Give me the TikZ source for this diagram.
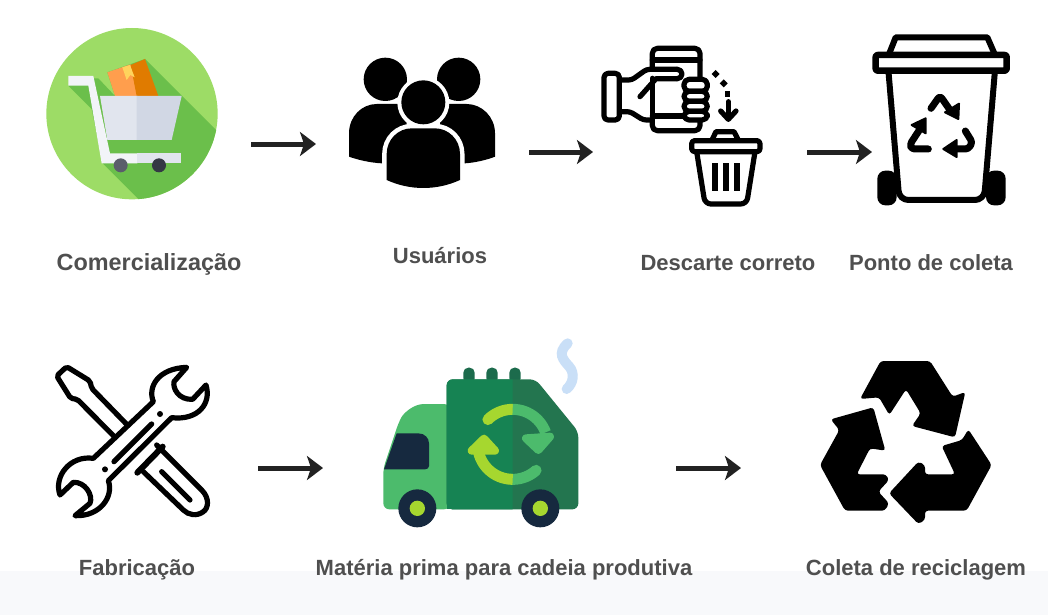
\documentclass[tikz,border=0pt]{standalone}
\usepackage{fontspec}
\setmainfont{Liberation Sans}
\usetikzlibrary{arrows.meta}
\definecolor{labelgray}{HTML}{4F4F4F}
\definecolor{arrowink}{HTML}{222222}
\definecolor{bandc}{HTML}{F8F9FB}
\definecolor{lgreen}{HTML}{9DDC66}
\definecolor{dgreen}{HTML}{6BBF4B}
\definecolor{boxlight}{HTML}{FF9E4D}
\definecolor{boxdark}{HTML}{E07B00}
\definecolor{tapec}{HTML}{FFD35C}
\definecolor{basketl}{HTML}{E1E5EE}
\definecolor{basketr}{HTML}{D1D7E4}
\definecolor{framec}{HTML}{F2F4F8}
\definecolor{wheela}{HTML}{5A5D6B}
\definecolor{wheelb}{HTML}{343844}
\definecolor{cabc}{HTML}{4CBB6C}
\definecolor{bodyc}{HTML}{168353}
\definecolor{rearc}{HTML}{23754F}
\definecolor{navyc}{HTML}{16293F}
\definecolor{limec}{HTML}{A6D72F}
\definecolor{smokec}{HTML}{C9DFF7}
\definecolor{stubc}{HTML}{1C6B4C}
\tikzset{
  lbl/.style={font=\fontsize{22}{26}\selectfont\bfseries,text=labelgray,inner sep=0pt},
  flow/.style={draw=arrowink,line width=5pt,-{Stealth[length=16pt,width=24pt,inset=4pt]}},
  ink/.style={draw=black,line join=round,line cap=round},
}
\begin{document}
\begin{tikzpicture}[x=1pt,y=-1pt]
\useasboundingbox (0,0) rectangle (1048,615);
\fill[white] (0,0) rectangle (1048,615);
\fill[bandc] (0,571) rectangle (1048,615);

% shopping cart
\begin{scope}[shift={(30,15)},scale=1/3]
  \fill[lgreen] (306,296) circle[radius=257];
  \begin{scope}
    \clip (306,296) circle[radius=257];
    \fill[dgreen] (115,212) -- (185,282) -- (218,445) -- (373,600) -- (600,600) -- (600,387) -- (345,132) -- (232,172) -- (255,243) -- (205,190) -- (175,190) -- cycle;
  \end{scope}
  \fill[boxlight] (232,172) -- (302,148) -- (322,243) -- (255,243) -- cycle;
  \fill[boxdark] (302,150) -- (345,132) -- (385,243) -- (320,243) -- cycle;
  \fill[tapec] (277,157) -- (300,150) -- (314,187) -- (301,180) -- (290,195) -- cycle;
  \fill[basketl] (210,243) -- (323,243) -- (323,375) -- (232,375) -- cycle;
  \fill[basketr] (320,243) -- (455,243) -- (425,375) -- (320,375) -- cycle;
  \fill[framec] (115,183) -- (190,183) -- (240,415) -- (322,415) -- (322,445) -- (215,445) -- (175,212) -- (115,212) -- cycle;
  \fill[basketl] (320,415) -- (452,415) -- (452,445) -- (320,445) -- cycle;
  \fill[wheela] (272,451) circle[radius=21];
  \fill[wheelb] (387,451) circle[radius=21];
\end{scope}

% users
\begin{scope}[shift={(340,30)},scale=1/3]
  \fill[black] (136,148) circle[radius=65];
  \fill[black] (356,148) circle[radius=65];
  \fill[black] (27,380) -- (27,310) .. controls (27,260) and (65,222) .. (110,222) -- (200,222) -- (200,400) -- (125,400) .. controls (90,398) and (55,390) .. (27,380) -- cycle;
  \fill[black] (465,380) -- (465,310) .. controls (465,260) and (425,222) .. (380,222) -- (300,222) -- (300,400) -- (375,400) .. controls (405,398) and (440,390) .. (465,380) -- cycle;
  \fill[white] (250,218) circle[radius=78];
  \path[draw=white,line width=9pt,fill=white] (140,450) -- (140,372) .. controls (140,328) and (175,295) .. (215,295) -- (285,295) .. controls (325,295) and (360,328) .. (360,372) -- (360,450) .. controls (320,480) and (180,480) .. (140,450) -- cycle;
  \fill[black] (140,450) -- (140,372) .. controls (140,328) and (175,295) .. (215,295) -- (285,295) .. controls (325,295) and (360,328) .. (360,372) -- (360,450) .. controls (290,482) and (210,482) .. (140,450) -- cycle;
  \fill[black] (250,217) circle[radius=66];
\end{scope}

% hand, phone and small bin
\begin{scope}[shift={(590,30)},scale=1/3]
  \begin{scope}[ink,line width=5.2pt]
    \draw[rounded corners=5pt] (187,118) -- (187,55) -- (330,55) -- (330,145);
    \draw (187,90) -- (330,90);
    \draw[rounded corners=5pt] (187,268) -- (187,302) -- (330,302) -- (330,272);
    \draw (187,258) -- (280,258);
    \draw (187,145) -- (187,258);
    \draw[rounded corners=4pt] (42,130) rectangle (88,270);
    \draw[rounded corners=3pt] (90,150) -- (125,150) -- (170,118) -- (262,118);
    \draw (262,118) arc[start angle=-90,end angle=90,radius=14];
    \draw (262,146) -- (198,146) -- (150,200);
    \draw[rounded corners=3pt] (90,245) -- (120,245) -- (160,270) -- (187,270);
    \draw[rounded corners=5pt,fill=white] (282,148) rectangle (352,184);
    \draw[rounded corners=5pt,fill=white] (282,184) rectangle (352,214);
    \draw[rounded corners=5pt,fill=white] (282,214) rectangle (352,244);
    \draw[rounded corners=5pt,fill=white] (282,244) rectangle (352,270);
    \draw (415,215) -- (415,264);
    \draw (392,243) -- (415,268) -- (438,243);
    \draw (366,330) -- (378,305) -- (432,305) -- (445,330);
    \draw[rounded corners=3pt] (305,332) rectangle (510,365);
    \draw[rounded corners=6pt] (320,365) -- (345,522) -- (470,522) -- (495,365);
    \draw[line cap=butt] (375,400) -- (375,482);
    \draw[line cap=butt] (408,400) -- (408,482);
    \draw[line cap=butt] (441,400) -- (441,482);
  \end{scope}
  \fill[black] (377,120) -- (389,132) -- (377,144) -- (365,132) -- cycle;
  \fill[black] (401,148) -- (413,160) -- (401,172) -- (389,160) -- cycle;
  \fill[black] (404,184) rectangle (420,200);
\end{scope}

% wheelie bin
\begin{scope}[shift={(860,25)},scale=1/3]
  \fill[black,rounded corners=8pt] (52,541) -- (52,437) -- (110,437) -- (110,541) -- cycle;
  \fill[black,rounded corners=8pt] (378,541) -- (378,437) -- (437,437) -- (437,541) -- cycle;
  \draw[ink,line width=6pt,fill=white,rounded corners=9pt] (85,135) -- (118,525) -- (372,525) -- (405,135);
  \draw[ink,line width=6pt] (88,85) -- (107,37) -- (382,37) -- (403,85);
  \draw[ink,line width=6.5pt,rounded corners=2pt,fill=white] (47,90) rectangle (440,137);
  \begin{scope}[ink,line width=7pt,rounded corners=3pt]
    \draw (213,250) -- (240,212) -- (272,258);
    \draw (205,372) -- (155,372) -- (150,358) -- (180,312);
    \draw (316,318) -- (337,352) -- (325,372) -- (285,372);
  \end{scope}
  \fill[black,draw=black,line width=2pt,line join=round] (297,236) -- (295,282) -- (255,262) -- cycle;
  \fill[black,draw=black,line width=2pt,line join=round] (155,300) -- (197,280) -- (197,325) -- cycle;
  \fill[black,draw=black,line width=2pt,line join=round] (250,372) -- (290,345) -- (290,396) -- cycle;
\end{scope}

% tools
\begin{scope}[shift={(40,350)},scale=1/3]
  \begin{scope}[ink,line width=5.2pt]
    \draw[rounded corners=2pt,fill=white] (265,228) -- (155,115) -- (150,93) -- (80,50) -- (50,78) -- (92,145) -- (112,148) -- (225,262);
    \draw[fill=white] (350,285) -- (485,420) .. controls (510,445) and (505,475) .. (490,485) .. controls (470,500) and (445,495) .. (430,480) -- (310,365);
    \draw (365,365) -- (450,450);
    \draw[line width=6pt] (292,368) -- (368,290);
    \draw[fill=white] (340,155) .. controls (322,110) and (355,55) .. (440,52) -- (402,95) .. controls (398,115) and (415,150) .. (458,148) -- (498,105) .. controls (515,160) and (475,212) .. (395,203) -- (205,392) .. controls (222,440) and (180,500) .. (105,497) -- (150,460) .. controls (160,435) and (135,395) .. (100,397) -- (60,435) .. controls (40,380) and (90,315) .. (160,325) -- cycle;
    \draw (335,222) -- (222,335);
  \end{scope}
  \fill[black] (360,192) circle[radius=9];
  \fill[black] (195,358) circle[radius=9];
\end{scope}

% truck
\begin{scope}[shift={(370,330)},scale=1/3]
  \draw[smokec,line width=10pt,line cap=round] (593,40) .. controls (560,70) and (580,90) .. (598,110) .. controls (615,130) and (610,160) .. (590,177);
  \foreach \sx in {297,366,435}{
    \fill[stubc,rounded corners=5pt] (\sx-17,160) -- (\sx-17,113) -- (\sx+17,113) -- (\sx+17,160) -- cycle;
  }
  \fill[cabc,rounded corners=6pt] (240,222) -- (180,222) .. controls (130,222) and (100,250) .. (85,280) -- (40,415) -- (40,538) -- (240,538) -- cycle;
  \fill[navyc] (42,418) -- (80,310) -- (145,310) .. controls (165,310) and (177,325) .. (177,340) -- (177,408) .. controls (177,414) and (172,418) .. (165,418) -- cycle;
  \fill[rearc,rounded corners=6pt] (230,538) -- (230,148) -- (497,148) -- (625,305) -- (625,538) -- cycle;
  \begin{scope}
    \clip (200,100) rectangle (428,560);
    \fill[bodyc,rounded corners=6pt] (230,538) -- (230,148) -- (497,148) -- (625,305) -- (625,538) -- cycle;
  \end{scope}
  \fill[bodyc] (230,500) rectangle (260,538);
  \draw[limec,line width=11pt,line cap=round] plot[domain=225:270,samples=15] ({428+105*cos(\x)},{343+105*sin(\x)});
  \fill[rearc] (428,220) rectangle (440,256);
  \draw[cabc,line width=11pt] plot[domain=270:340,samples=15] ({428+105*cos(\x)},{343+105*sin(\x)});
  \fill[cabc,draw=cabc,line width=8pt,line join=round] (468,325) -- (540,320) -- (505,360) -- cycle;
  \draw[cabc,line width=11pt,line cap=round] plot[domain=48:92,samples=15] ({428+105*cos(\x)},{343+105*sin(\x)});
  \draw[limec,line width=11pt] plot[domain=90:168,samples=15] ({428+105*cos(\x)},{343+105*sin(\x)});
  \fill[limec,draw=limec,line width=8pt,line join=round] (305,362) -- (342,326) -- (375,362) -- cycle;
  \fill[navyc] (142,535) circle[radius=57];
  \fill[limec] (142,535) circle[radius=23];
  \fill[navyc] (511,535) circle[radius=57];
  \fill[limec] (511,535) circle[radius=23];
\end{scope}

% recycling symbol
\begin{scope}[shift={(810,350)},scale=1/3]
  \fill[black,rounded corners=3pt] (150,147) -- (212,33) -- (360,33) -- (428,140) -- (466,126) -- (435,262) -- (306,228) -- (332,190) -- (288,118) -- (238,195) -- (207,142) -- cycle;
  \fill[black,rounded corners=3pt] (62,208) -- (190,172) -- (226,302) -- (180,295) -- (140,373) -- (228,373) -- (237,390) -- (205,425) -- (237,460) -- (225,482) -- (105,482) -- (30,345) -- (88,240) -- cycle;
  \fill[black,rounded corners=3pt] (395,288) -- (456,270) -- (475,238) -- (545,345) -- (470,482) -- (345,482) -- (345,510) -- (325,522) -- (237,430) -- (325,335) -- (345,345) -- (345,373) -- (435,373) -- cycle;
\end{scope}

% labels
\node[lbl,font=\fontsize{23.4}{26}\selectfont\bfseries] (comercio) at (149,264.5) {Comercialização};
\node[lbl] (usuarios) at (440,256) {Usuários};
\node[lbl] (descarte) at (728,263) {Descarte correto};
\node[lbl] (ponto) at (931,263) {Ponto de coleta};
\node[lbl] (fabrica) at (137,570) {Fabricação};
\node[lbl] (materia) at (504,570) {Matéria prima para cadeia produtiva};
\node[lbl] (coleta) at (916,570) {Coleta de reciclagem};

% connectors
\coordinate (a1s) at (251,144); \coordinate (a1e) at (316,144);
\coordinate (a2s) at (529,152); \coordinate (a2e) at (593,152);
\coordinate (a3s) at (807,152); \coordinate (a3e) at (872,152);
\coordinate (a4s) at (258,468); \coordinate (a4e) at (323,468);
\coordinate (a5s) at (676,468); \coordinate (a5e) at (741,468);
\draw[flow] (a1s) -- (a1e);
\draw[flow] (a2s) -- (a2e);
\draw[flow] (a3s) -- (a3e);
\draw[flow] (a4s) -- (a4e);
\draw[flow] (a5s) -- (a5e);
\end{tikzpicture}
\end{document}
